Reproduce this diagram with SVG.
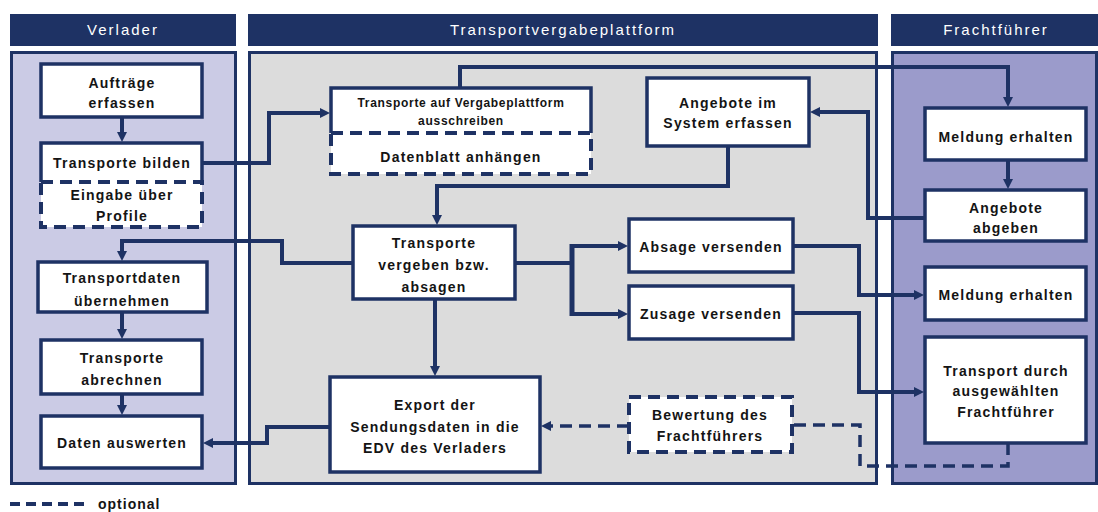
<svg xmlns="http://www.w3.org/2000/svg" width="1098" height="512" viewBox="0 0 1098 512">
<defs>
<marker id="ah" viewBox="0 0 10 10" refX="5" refY="5" markerWidth="10" markerHeight="10" markerUnits="userSpaceOnUse" orient="auto">
<path d="M0,0 L10,5 L0,10 z" fill="#1e3264"/>
</marker>
<style>
.hdr{fill:#1e3264}
.htx{font-family:"Liberation Sans",Arial,sans-serif;font-size:15px;fill:#ffffff;text-anchor:middle;letter-spacing:2px}
.lane{stroke:#1e3264;stroke-width:3}
.box{fill:#ffffff;stroke:#1e3264;stroke-width:3.5}
.dbox{fill:#ffffff;stroke:#1e3264;stroke-width:4;stroke-dasharray:12 7}
.t{font-family:"Liberation Sans",Arial,sans-serif;font-size:14px;font-weight:bold;fill:#141414;text-anchor:middle;letter-spacing:1.2px}
.ts{font-family:"Liberation Sans",Arial,sans-serif;font-size:12px;font-weight:bold;fill:#141414;text-anchor:middle;letter-spacing:0.7px}
.c{fill:none;stroke:#1e3264;stroke-width:4}
.cd{fill:none;stroke:#1e3264;stroke-width:3.5;stroke-dasharray:12 7}
</style>
</defs>
<rect width="1098" height="512" fill="#ffffff"/>
<g id="lanes">
<rect class="hdr" x="10" y="14" width="226" height="32"/>
<text class="htx" x="123" y="35">Verlader</text>
<rect class="hdr" x="248" y="14" width="630" height="32"/>
<text class="htx" x="563" y="35">Transportvergabeplattform</text>
<rect class="hdr" x="891" y="14" width="207" height="32"/>
<text class="htx" x="996" y="35">Frachtführer</text>
<rect class="lane" x="11.5" y="52.5" width="224" height="431" fill="#cbcbe5"/>
<rect class="lane" x="249.5" y="52.5" width="627" height="431" fill="#dcdcdc"/>
<rect class="lane" x="892.5" y="52.5" width="204" height="431" fill="#9b9bcb"/>
</g>
<g id="connectors">
<path class="c" d="M122,117 V137" marker-end="url(#ah)"/>
<path class="c" d="M202,163 H269 V113 H325" marker-end="url(#ah)"/>
<path class="c" d="M460,88 V67 H1008 V102" marker-end="url(#ah)"/>
<path class="c" d="M1008,160 V184" marker-end="url(#ah)"/>
<path class="c" d="M925,218 H868 V112 H815" marker-end="url(#ah)"/>
<path class="c" d="M728,146 V186 H437 V220" marker-end="url(#ah)"/>
<path class="c" d="M353,263 H282 V241 H122 V256" marker-end="url(#ah)"/>
<path class="c" d="M122,312 V334" marker-end="url(#ah)"/>
<path class="c" d="M122,394 V410" marker-end="url(#ah)"/>
<path class="c" d="M435,299 V371" marker-end="url(#ah)"/>
<path class="c" d="M515,263 H572"/>
<path class="c" d="M572,244 V316" style="stroke-width:5"/>
<path class="c" d="M572,246 H623" marker-end="url(#ah)"/>
<path class="c" d="M572,314 H623" marker-end="url(#ah)"/>
<path class="c" d="M793,246 H859 V295 H919" marker-end="url(#ah)"/>
<path class="c" d="M793,313 H859 V392 H919" marker-end="url(#ah)"/>
<path class="cd" d="M1008,443 V466 H860 V425 H792"/>
<path class="cd" d="M629,426 H546" marker-end="url(#ah)"/>
<path class="c" d="M330,427 H267 V443 H208" marker-end="url(#ah)"/>
</g>
<g id="n1"><rect class="box" x="41" y="64" width="161" height="53"/><text class="t" x="122" y="88">Aufträge</text><text class="t" x="122" y="108">erfassen</text></g>
<g id="n2"><path class="box" d="M41,182 V143 H202 V182 Z" style="stroke:none"/><path class="box" d="M41,182 V143 H202 V182" style="fill:none"/><text class="t" x="122" y="168">Transporte bilden</text></g>
<g id="n3"><rect class="dbox" x="41" y="182" width="161" height="45"/><text class="t" x="122" y="200">Eingabe über</text><text class="t" x="122" y="221">Profile</text></g>
<g id="n4"><rect class="box" x="38" y="262" width="169" height="50"/><text class="t" x="122" y="283">Transportdaten</text><text class="t" x="122" y="306">übernehmen</text></g>
<g id="n5"><rect class="box" x="41" y="340" width="161" height="54"/><text class="t" x="122" y="363">Transporte</text><text class="t" x="122" y="385">abrechnen</text></g>
<g id="n6"><rect class="box" x="41" y="416" width="161" height="52"/><text class="t" x="122" y="448">Daten auswerten</text></g>
<g id="n7"><path class="box" d="M331,133 V88 H591 V133 Z" style="stroke:none"/><path class="box" d="M331,133 V88 H591 V133" style="fill:none"/><text class="ts" x="461" y="107">Transporte auf Vergabeplattform</text><text class="ts" x="461" y="125">ausschreiben</text></g>
<g id="n8"><rect class="dbox" x="331" y="133" width="260" height="41"/><text class="t" x="461" y="162">Datenblatt anhängen</text></g>
<g id="n9"><rect class="box" x="647" y="78" width="162" height="68"/><text class="t" x="728" y="108">Angebote im</text><text class="t" x="728" y="128">System erfassen</text></g>
<g id="n10"><rect class="box" x="925" y="108" width="161" height="52"/><text class="t" x="1006" y="142">Meldung erhalten</text></g>
<g id="n11"><rect class="box" x="925" y="190" width="161" height="51"/><text class="t" x="1006" y="213">Angebote</text><text class="t" x="1006" y="233">abgeben</text></g>
<g id="n12"><rect class="box" x="353" y="226" width="162" height="73"/><text class="t" x="434" y="248">Transporte</text><text class="t" x="434" y="270">vergeben bzw.</text><text class="t" x="434" y="292">absagen</text></g>
<g id="n13"><rect class="box" x="629" y="219" width="164" height="53"/><text class="t" x="711" y="252">Absage versenden</text></g>
<g id="n14"><rect class="box" x="629" y="286" width="164" height="53"/><text class="t" x="711" y="319">Zusage versenden</text></g>
<g id="n15"><rect class="box" x="925" y="267" width="161" height="53"/><text class="t" x="1006" y="300">Meldung erhalten</text></g>
<g id="n16"><rect class="box" x="925" y="337" width="161" height="106"/><text class="t" x="1006" y="376">Transport durch</text><text class="t" x="1006" y="396">ausgewählten</text><text class="t" x="1006" y="417">Frachtführer</text></g>
<g id="n17"><rect class="box" x="330" y="377" width="210" height="95"/><text class="t" x="435" y="410">Export der</text><text class="t" x="435" y="432">Sendungsdaten in die</text><text class="t" x="435" y="453">EDV des Verladers</text></g>
<g id="n18"><rect class="dbox" x="629" y="397" width="163" height="55"/><text class="t" x="710" y="420">Bewertung des</text><text class="t" x="710" y="441">Frachtführers</text></g>
<g id="legend"><path class="cd" d="M10,504 H88" style="stroke-width:4;stroke-dasharray:10 6"/><text class="t" x="98" y="509" style="text-anchor:start;letter-spacing:1px">optional</text></g>
</svg>
